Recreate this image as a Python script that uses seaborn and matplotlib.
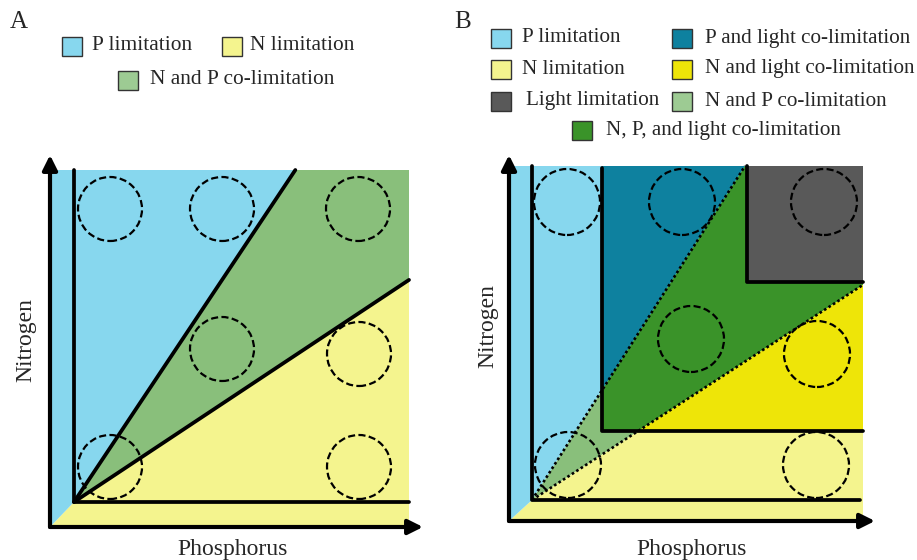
"""Nutrient / light limitation concept diagram
=============================================
Two panels: N-P co-limitation (A) and N-P-light co-limitation (B).
"""

import matplotlib
matplotlib.use("Agg")
import pandas as pd
import seaborn as sns
from matplotlib import pyplot as plt
from matplotlib.patches import Polygon, Circle, Rectangle

sns.set_theme(style="white")
plt.rcParams["font.family"] = ["Liberation Serif", "DejaVu Serif"]

###############################################################################
# colours
c_P = "#87D7EE"      # P limitation
c_N = "#F4F48E"      # N limitation
c_NP = "#89BF7B"     # N and P co-limitation
c_NP_leg = "#9DCB93"
c_PL = "#0E819F"     # P and light
c_NL = "#EEE508"     # N and light
c_L = "#595959"      # light
c_NPL = "#3A9329"    # N, P and light

###############################################################################
# geometry, pixel units, origin at the inner axes corner, y up
A_box = [-24, 335, -25, 332]          # x0, x1, y0, y1
A_slope_up = 1.50
A_slope_lo = 0.663
A_arrow_tip = [349, 347]
A_circle_x = [36, 148, 284, 148, 285, 36, 285]
A_circle_y = [293, 293, 293, 153, 148, 35, 35]
A_radius = 32

B_box = [-23, 331, -21, 334]
B_slope_up = 1.568
B_slope_lo = 0.65
B_P_thresh = 70
B_N_thresh = 69
B_light_thresh = [215, 218]
B_arrow_tip = [343, 345]
B_circle_x = [35, 150, 292, 159, 285, 36, 284]
B_circle_y = [298, 298, 298, 161, 146, 35, 35]
B_radius = 33

A_legend = ["P limitation", "N limitation", "N and P co-limitation"]
B_legend = ["P limitation", "P and light co-limitation", "N limitation",
            "N and light co-limitation", "Light limitation",
            "N and P co-limitation", "N, P, and light co-limitation"]

FS = 17
FS_LEG = 15.4


def poly(ax, pts, color, z=1):
    ax.add_patch(Polygon(pts, closed=True, facecolor=color, edgecolor="none", zorder=z))


def seg(ax, xs, ys, lw=2.3, ls="-"):
    df = pd.DataFrame({"x": xs, "y": ys})
    sns.lineplot(data=df, x="x", y="y", ax=ax, color="black", lw=lw, ls=ls,
                 estimator=None, sort=False, zorder=5)


def arrows(ax, box, tip):
    x0, x1, y0, y1 = box
    for end in [(tip[0], y0), (x0, tip[1])]:
        ax.annotate("", xy=end, xytext=(x0, y0),
                    arrowprops=dict(arrowstyle="-|>", lw=3, color="black",
                                    mutation_scale=22, shrinkA=0, shrinkB=0),
                    zorder=6)


def circles(ax, xs, ys, r):
    for cx, cy in zip(xs, ys):
        ax.add_patch(Circle((cx, cy), r, fill=False, edgecolor="black", lw=1.6,
                            ls=(0, (3.2, 1.5)), zorder=7))


def legend_entry(ax, x, y, color, label, tx, fs=FS_LEG):
    ax.add_patch(Rectangle((x, y - 9.5), 20, 19, facecolor=color, edgecolor="#333333",
                           lw=1, zorder=8, clip_on=False))
    ax.text(tx, y, label, fontsize=fs, va="center", ha="left", zorder=8)


fig = plt.figure(figsize=(9.17, 5.6), dpi=100)
axA = fig.add_axes([0, 0, 450 / 917, 1])
axB = fig.add_axes([450 / 917, 0, 467 / 917, 1])
axA.set_xlim(-74, 376)
axA.set_ylim(-58, 502)
axB.set_xlim(-82, 385)
axB.set_ylim(-60, 500)

###############################################################################
# Panel A
x0, x1, y0, y1 = A_box
xt = y1 / A_slope_up
yr = x1 * A_slope_lo
poly(axA, [(x0, y0), (x1, y0), (x1, yr), (0, 0)], c_N)
poly(axA, [(x0, y0), (0, 0), (xt, y1), (x0, y1)], c_P)
poly(axA, [(0, 0), (xt, y1), (x1, y1), (x1, yr)], c_NP)
seg(axA, [0, 0, x1], [y1, 0, 0], lw=2.7)
seg(axA, [0, xt], [0, y1], lw=2.7)
seg(axA, [0, x1], [0, yr], lw=2.7)
arrows(axA, A_box, A_arrow_tip)
circles(axA, A_circle_x, A_circle_y, A_radius)

axA.text(-55, 480, "A", fontsize=18, ha="center", va="center")
legend_entry(axA, -12, 456, c_P, A_legend[0], tx=18)
legend_entry(axA, 148, 456, c_N, A_legend[1], tx=176)
legend_entry(axA, 44, 422, c_NP_leg, A_legend[2], tx=76)
axA.text(-48, 162, "Nitrogen", fontsize=FS, rotation=90, ha="center", va="center")
axA.text(159, -47, "Phosphorus", fontsize=FS, ha="center", va="center")

###############################################################################
# Panel B
x0, x1, y0, y1 = B_box
xt = y1 / B_slope_up
yr = x1 * B_slope_lo
xp, yn = B_P_thresh, B_N_thresh
xl, yl = B_light_thresh
yp = xp * B_slope_up
xn = yn / B_slope_lo
poly(axB, [(x0, y0), (x1, y0), (x1, yr), (0, 0)], c_N)
poly(axB, [(x0, y0), (0, 0), (xt, y1), (x0, y1)], c_P)
poly(axB, [(0, 0), (xt, y1), (x1, y1), (x1, yr)], c_NP)
poly(axB, [(xp, yp), (xt, y1), (xp, y1)], c_PL, z=2)
poly(axB, [(xp, yn), (xn, yn), (x1, yr), (x1, y1), (xt, y1), (xp, yp)], c_NPL, z=2)
poly(axB, [(xn, yn), (x1, yn), (x1, yr)], c_NL, z=2)
poly(axB, [(xl, yl), (x1, yl), (x1, y1), (xl, y1)], c_L, z=3)
seg(axB, [0, 0, x1 - 3], [y1, 0, 0], lw=2.7)
seg(axB, [xp, xp, x1], [y1 - 2, yn, yn], lw=2.7)
seg(axB, [xl, xl, x1], [y1, yl, yl], lw=2.7)
seg(axB, [0, xt], [0, y1], lw=1.9, ls=(0, (1, 1)))
seg(axB, [0, x1], [0, yr], lw=1.9, ls=(0, (1, 1)))
arrows(axB, B_box, B_arrow_tip)
circles(axB, B_circle_x, B_circle_y, B_radius)

axB.text(-69, 478, "B", fontsize=18, ha="center", va="center")
row_y = [462, 431, 399, 370]
fsB = 15.2
legend_entry(axB, -41, row_y[0], c_P, B_legend[0], tx=-10, fs=fsB)
legend_entry(axB, 140, row_y[0], c_PL, B_legend[1], tx=173, fs=fsB)
legend_entry(axB, -41, row_y[1], c_N, B_legend[2], tx=-10, fs=fsB)
legend_entry(axB, 140, row_y[1], c_NL, B_legend[3], tx=173, fs=fsB)
legend_entry(axB, -41, row_y[2], c_L, B_legend[4], tx=-6, fs=fsB)
legend_entry(axB, 140, row_y[2], c_NP_leg, B_legend[5], tx=173, fs=fsB)
legend_entry(axB, 40, row_y[3], c_NPL, B_legend[6], tx=74, fs=fsB)
axB.text(-44, 174, "Nitrogen", fontsize=FS, rotation=90, ha="center", va="center")
axB.text(160, -49, "Phosphorus", fontsize=FS, ha="center", va="center")

for ax in [axA, axB]:
    ax.axis("off")

plt.savefig("out.png", dpi=100)
